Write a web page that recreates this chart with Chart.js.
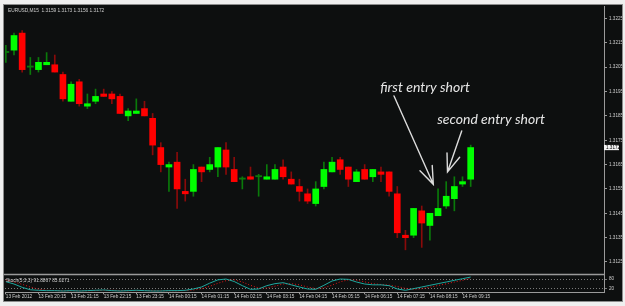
<!DOCTYPE html>
<html>
<head>
<meta charset="utf-8">
<script src="https://cdn.jsdelivr.net/npm/chart.js@4.4.1/dist/chart.umd.min.js"></script>
<style>
  html, body { margin: 0; padding: 0; background: #efefef; }
  body { width: 625px; height: 306px; position: relative; overflow: hidden; }
  #win { position: absolute; left: 3px; top: 4px; width: 618px; height: 296px; background: #0d0f0f; border: 1px solid #8c8c8c; }
  #main { position: absolute; left: 0; top: 0; }
  #stoch { position: absolute; left: 0; top: 266px; }
</style>
</head>
<body>
<div id="win"></div>
<canvas id="main" width="622" height="282"></canvas>
<canvas id="stoch" width="622" height="36"></canvas>
<script>
// EURUSD M15, one candle every 15 min starting 13 Feb 19:15
const opens = [1.3211, 1.3212, 1.3219, 1.3205, 1.3204, 1.3206, 1.3206, 1.3202, 1.3191, 1.3199,
               1.3189, 1.3191, 1.3194, 1.3194, 1.3193, 1.3185, 1.3186, 1.3188, 1.3184, 1.3172,
               1.3164, 1.3166, 1.3154, 1.3154, 1.3164, 1.3163, 1.3164, 1.3171, 1.3163, 1.3159,
               1.3160, 1.3160, 1.3159, 1.3159, 1.3164, 1.3159, 1.3156, 1.3153, 1.3149, 1.3156,
               1.3162, 1.3167, 1.3164, 1.3158, 1.3163, 1.3160, 1.3162, 1.3162, 1.3153, 1.3136,
               1.3136, 1.3146, 1.3140, 1.3144, 1.3148, 1.3151, 1.3157, 1.3159];
const highs = [1.3214, 1.3219, 1.3220, 1.3209, 1.3209, 1.3211, 1.3210, 1.3203, 1.3199, 1.3200,
               1.3194, 1.3196, 1.3196, 1.3195, 1.3194, 1.3188, 1.3192, 1.3191, 1.3186, 1.3174,
               1.3166, 1.3170, 1.3159, 1.3165, 1.3164, 1.3168, 1.3172, 1.3174, 1.3168, 1.3160,
               1.3164, 1.3161, 1.3165, 1.3165, 1.3167, 1.3162, 1.3159, 1.3155, 1.3158, 1.3166,
               1.3168, 1.3168, 1.3164, 1.3163, 1.3165, 1.3163, 1.3164, 1.3162, 1.3156, 1.3138,
               1.3147, 1.3148, 1.3145, 1.3155, 1.3158, 1.3160, 1.3160, 1.3173];
const lows  = [1.3207, 1.3210, 1.3203, 1.3202, 1.3203, 1.3206, 1.3203, 1.3191, 1.3191, 1.3189,
               1.3188, 1.3190, 1.3193, 1.3190, 1.3186, 1.3183, 1.3186, 1.3185, 1.3169, 1.3162,
               1.3154, 1.3147, 1.3150, 1.3152, 1.3158, 1.3162, 1.3160, 1.3161, 1.3158, 1.3155,
               1.3159, 1.3152, 1.3159, 1.3159, 1.3159, 1.3157, 1.3150, 1.3149, 1.3148, 1.3155,
               1.3162, 1.3161, 1.3156, 1.3158, 1.3159, 1.3158, 1.3158, 1.3152, 1.3135, 1.3130,
               1.3135, 1.3131, 1.3134, 1.3144, 1.3147, 1.3146, 1.3156, 1.3156];
const closes = [1.3211, 1.3218, 1.3204, 1.3205, 1.3207, 1.3207, 1.3203, 1.3192, 1.3198, 1.3190,
                1.3190, 1.3193, 1.3193, 1.3192, 1.3186, 1.3187, 1.3187, 1.3185, 1.3173, 1.3165,
                1.3165, 1.3155, 1.3153, 1.3163, 1.3162, 1.3165, 1.3172, 1.3164, 1.3158, 1.3159,
                1.3159, 1.3160, 1.3160, 1.3163, 1.3160, 1.3157, 1.3154, 1.3150, 1.3155, 1.3163,
                1.3166, 1.3163, 1.3159, 1.3162, 1.3159, 1.3163, 1.3161, 1.3154, 1.3137, 1.3135,
                1.3147, 1.3141, 1.3145, 1.3147, 1.3152, 1.3156, 1.3158, 1.3172];

const priceTicks = [1.3225, 1.3215, 1.3205, 1.3195, 1.3185, 1.3175, 1.3165, 1.3155, 1.3145, 1.3135, 1.3125];
const priceMin = 1.312007;
const priceMax = 1.323013;

// one label every 4 candles (hourly)
const labelEvery = 4;
const timeLabels = ['13 Feb 2012', '13 Feb 20:15', '13 Feb 21:15', '13 Feb 22:15', '13 Feb 23:15',
                    '14 Feb 00:15', '14 Feb 01:15', '14 Feb 02:15', '14 Feb 03:15', '14 Feb 04:15',
                    '14 Feb 05:15', '14 Feb 06:15', '14 Feb 07:15', '14 Feb 08:15', '14 Feb 09:15'];
const xMin = -0.104;
const xMax = 73.35;

// Stochastic(5,3,3)
const stochMain = [64, 50, 30, 15, 12, 10, 10, 8, 10, 8,
                   10, 12, 14, 10, 8, 10, 12, 10, 8, 8,
                   10, 10, 12, 20, 32, 55, 75, 80, 65, 40,
                   18, 20, 40, 52, 58, 45, 32, 20, 18, 42,
                   68, 80, 78, 62, 50, 45, 45, 40, 20, 12,
                   22, 32, 42, 52, 62, 72, 82, 91.8867];
const stochSignal = [75, 62, 48, 32, 19, 12, 11, 9, 9, 9,
                     9, 10, 12, 12, 11, 9, 10, 11, 10, 9,
                     9, 9, 11, 14, 22, 36, 54, 70, 75, 62,
                     42, 26, 26, 37, 50, 52, 45, 32, 23, 27,
                     43, 63, 75, 73, 63, 52, 47, 43, 35, 24,
                     18, 22, 31, 41, 51, 62, 72, 85.0271];
const stochLevels = [20, 80];

// hand-drawn notes, anchored in candle index / price
const notes = [
  { text: 'first entry short', x: 45.9, y: 1.31950 },
  { text: 'second entry short', x: 52.9, y: 1.31817 }
];
const arrows = [
  { from: [47.6, 1.31932], to: [52.42, 1.31569] },
  { from: [55.9, 1.31788], to: [54.16, 1.31620] }
];

const upBody = '#00ff00', downBody = '#ff0000';
const upWick = '#0a7a0a', downWick = '#8a0a0a';
const grey = '#9a9a9a', labelColor = '#cfcfcf';
const smallFont = { size: 4.7, family: 'Liberation Sans' };

const isUp = i => closes[i] >= opens[i];

const mainDecor = {
  id: 'mainDecor',
  afterDraw(chart) {
    const { ctx, chartArea: a, scales: { x, y } } = chart;
    ctx.save();
    // separator under the price window
    ctx.strokeStyle = grey;
    ctx.lineWidth = 1.5;
    ctx.beginPath();
    ctx.moveTo(4, a.bottom + 0.5);
    ctx.lineTo(a.right, a.bottom + 0.5);
    ctx.stroke();

    // symbol header
    ctx.fillStyle = labelColor;
    ctx.font = '4.8px "Liberation Sans"';
    ctx.textBaseline = 'middle';
    const n = closes.length - 1;
    ctx.fillText('EURUSD,M15  ' + [opens[n], highs[n], lows[n], closes[n]].map(v => v.toFixed(4)).join(' '), a.left + 3, a.top + 4.3);

    // last price box
    const py = y.getPixelForValue(closes[n]);
    ctx.fillStyle = '#f4f4f4';
    ctx.fillRect(a.right, py - 2.6, 15, 5.2);
    ctx.fillStyle = '#000';
    ctx.font = '4.6px "Liberation Sans"';
    ctx.fillText(closes[n].toFixed(4), a.right + 2, py);

    // notes and arrows
    ctx.fillStyle = '#e6e6e6';
    ctx.font = 'italic 14px Lato';
    ctx.textBaseline = 'alphabetic';
    notes.forEach(nt => ctx.fillText(nt.text, x.getPixelForValue(nt.x), y.getPixelForValue(nt.y)));

    ctx.strokeStyle = '#dcdcdc';
    ctx.lineWidth = 1.4;
    ctx.lineCap = 'round';
    arrows.forEach(ar => {
      const x1 = x.getPixelForValue(ar.from[0]), y1 = y.getPixelForValue(ar.from[1]);
      const x2 = x.getPixelForValue(ar.to[0]), y2 = y.getPixelForValue(ar.to[1]);
      const ang = Math.atan2(y1 - y2, x1 - x2);
      const len = 19, spread = 0.36;
      ctx.beginPath();
      ctx.moveTo(x1, y1);
      ctx.lineTo(x2, y2);
      ctx.moveTo(x2 + len * Math.cos(ang + spread), y2 + len * Math.sin(ang + spread));
      ctx.lineTo(x2, y2);
      ctx.lineTo(x2 + len * Math.cos(ang - spread), y2 + len * Math.sin(ang - spread));
      ctx.stroke();
    });
    ctx.restore();
  }
};

const stochDecor = {
  id: 'stochDecor',
  afterDraw(chart) {
    const { ctx, chartArea: a } = chart;
    ctx.save();
    ctx.fillStyle = labelColor;
    ctx.font = '4.8px "Liberation Sans"';
    ctx.textBaseline = 'middle';
    const n = stochMain.length - 1;
    ctx.fillText('Stoch(5,3,3) ' + stochMain[n].toFixed(4) + ' ' + stochSignal[n].toFixed(4), a.left + 1, a.top + 4.5);
    ctx.restore();
  }
};

new Chart(document.getElementById('main'), {
  type: 'bar',
  data: {
    datasets: [
      {
        label: 'bodies',
        data: opens.map((o, i) => ({ x: i, y: [o, closes[i]] })),
        backgroundColor: c => opens[c.dataIndex] === closes[c.dataIndex] ? upWick : (isUp(c.dataIndex) ? upBody : downBody),
        barThickness: 6,
        minBarLength: 1.2,
        grouped: false,
        order: 0
      },
      {
        label: 'wicks',
        data: lows.map((l, i) => ({ x: i, y: [l, highs[i]] })),
        backgroundColor: c => isUp(c.dataIndex) ? upWick : downWick,
        barThickness: 1,
        grouped: false,
        order: 1
      }
    ]
  },
  options: {
    responsive: false,
    devicePixelRatio: 1,
    animation: false,
    layout: { padding: { left: 5, top: 6, right: 0, bottom: 8 } },
    plugins: { legend: { display: false }, tooltip: { enabled: false } },
    scales: {
      x: { type: 'linear', display: false, min: xMin, max: xMax, offset: false },
      y: {
        position: 'right',
        min: priceMin,
        max: priceMax,
        beginAtZero: false,
        afterFit: s => { s.width = 18; },
        afterBuildTicks: s => { s.ticks = priceTicks.map(v => ({ value: v })); },
        grid: { drawOnChartArea: false, tickLength: 3, color: grey },
        border: { display: true, color: grey },
        ticks: { color: labelColor, font: { size: 4.6, family: 'Liberation Sans' }, padding: 2, autoSkip: false, callback: v => v.toFixed(4) }
      }
    }
  },
  plugins: [mainDecor]
});

new Chart(document.getElementById('stoch'), {
  type: 'line',
  data: {
    datasets: [
      {
        label: 'main',
        data: stochMain.map((v, i) => ({ x: i, y: v })),
        borderColor: '#1fa89f',
        borderWidth: 1,
        pointRadius: 0
      },
      {
        label: 'signal',
        data: stochSignal.map((v, i) => ({ x: i, y: v })),
        borderColor: '#e01818',
        borderWidth: 1,
        borderDash: [1, 2],
        pointRadius: 0
      }
    ]
  },
  options: {
    responsive: false,
    devicePixelRatio: 1,
    animation: false,
    layout: { padding: { left: 5, top: 9.7, right: 0, bottom: 0 } },
    plugins: { legend: { display: false }, tooltip: { enabled: false } },
    scales: {
      x: {
        type: 'linear',
        min: xMin,
        max: xMax,
        offset: false,
        afterFit: s => { s.height = 9.7; },
        afterBuildTicks: s => { s.ticks = timeLabels.map((t, k) => ({ value: k * labelEvery })); },
        grid: { drawOnChartArea: false, tickLength: 2, color: grey },
        border: { display: true, color: grey },
        ticks: { align: 'start', maxRotation: 0, autoSkip: false, padding: 0, color: labelColor, font: smallFont, callback: (v, k) => timeLabels[k] }
      },
      y: {
        position: 'right',
        min: 0,
        max: 100,
        afterFit: s => { s.width = 18; },
        afterBuildTicks: s => { s.ticks = stochLevels.map(v => ({ value: v })); },
        grid: { color: '#7a7a7a', tickLength: 3 },
        border: { display: true, color: grey, dash: [1, 2] },
        ticks: { color: labelColor, font: { size: 4.6, family: 'Liberation Sans' }, padding: 2, autoSkip: false, callback: v => String(v) }
      }
    }
  },
  plugins: [stochDecor]
});
</script>
</body>
</html>
